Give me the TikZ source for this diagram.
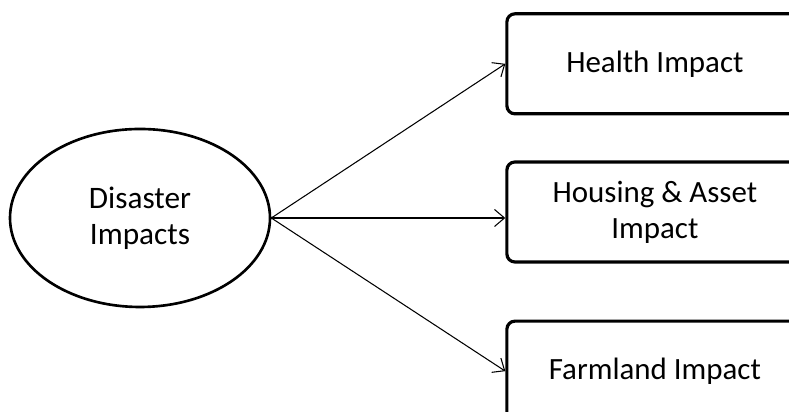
\documentclass[tikz,border=0pt]{standalone}
\usepackage{fontspec}
\setmainfont{Carlito}
\usetikzlibrary{arrows.meta,positioning,shapes.geometric}

\begin{document}
\begin{tikzpicture}[
    impactbox/.style={draw,line width=1.8pt,rounded corners=0.16cm,minimum width=5.92cm,minimum height=2cm,align=center,font=\fontsize{17.6}{20.5}\selectfont},
    link/.style={-{Straight Barb[length=2mm,width=3.4mm]},line width=0.6pt}
  ]
      \useasboundingbox (0,0) rectangle (15.78,8.24);
      \clip (0,0) rectangle (15.78,8.24);
      \node[ellipse,draw,line width=1.5pt,minimum width=5.2cm,minimum height=3.56cm,align=center,font=\fontsize{17.8}{20.5}\selectfont] (disaster) at (2.8,3.88) {Disaster\\Impacts};
      \node[impactbox,right=4.68cm of disaster,yshift=0.12cm] (housing) {Housing \& Asset\\Impact};
      \node[impactbox,above=0.9cm of housing] (health) {Health Impact};
      \node[impactbox,below=1.12cm of housing] (farmland) {Farmland Impact};
      \draw[link] (disaster.east) -- (health.west);
      \draw[link] (disaster.east) -- (disaster.east -| housing.west);
      \draw[link] (disaster.east) -- (farmland.west);
\end{tikzpicture}
\end{document}
